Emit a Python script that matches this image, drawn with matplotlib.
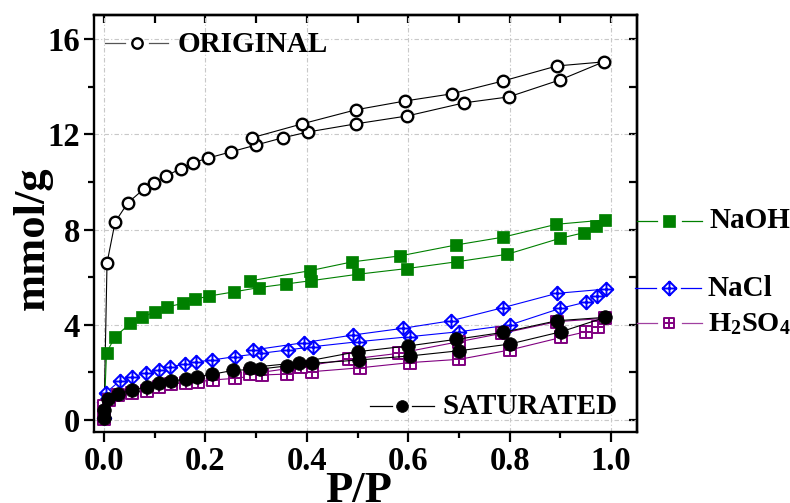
import matplotlib
matplotlib.use("Agg")
import matplotlib.pyplot as plt
from matplotlib.path import Path
from matplotlib.lines import Line2D
from matplotlib.ticker import MultipleLocator, NullFormatter, FixedLocator

plt.rcParams['font.family'] = ['Liberation Serif', 'DejaVu Serif']
plt.rcParams['font.weight'] = 'bold'
plt.rcParams['mathtext.fontset'] = 'custom'
plt.rcParams['mathtext.rm'] = 'Liberation Serif:bold'
plt.rcParams['mathtext.it'] = 'Liberation Serif:bold'
plt.rcParams['mathtext.bf'] = 'Liberation Serif:bold'
plt.rcParams['mathtext.default'] = 'rm'

# ---- isotherm data (adsorption branch, then desorption branch) ----
orig_ads_x = [0.0, 0.006, 0.022, 0.047, 0.079, 0.098, 0.122, 0.151, 0.175, 0.205,
              0.25, 0.30, 0.352, 0.403, 0.497, 0.598, 0.71, 0.798, 0.90, 0.985]
orig_ads_y = [0.1, 6.6, 8.32, 9.12, 9.71, 9.96, 10.25, 10.55, 10.80, 11.0,
              11.26, 11.55, 11.85, 12.1, 12.44, 12.77, 13.32, 13.57, 14.29, 15.04]
orig_des_x = [0.893, 0.787, 0.686, 0.594, 0.497, 0.391, 0.291]
orig_des_y = [14.87, 14.24, 13.7, 13.4, 13.03, 12.44, 11.85]

naoh_ads_x = [0.0, 0.005, 0.022, 0.052, 0.075, 0.10, 0.125, 0.156, 0.179, 0.208, 0.256,
              0.305, 0.358, 0.408, 0.50, 0.597, 0.697, 0.795, 0.899, 0.947, 0.971, 0.987]
naoh_ads_y = [0.1, 2.83, 3.5, 4.06, 4.31, 4.54, 4.75, 4.9, 5.07, 5.21, 5.38,
              5.56, 5.71, 5.85, 6.12, 6.36, 6.65, 6.96, 7.63, 7.87, 8.15, 8.40]
naoh_des_x = [0.892, 0.787, 0.694, 0.583, 0.489, 0.406, 0.287]
naoh_des_y = [8.22, 7.68, 7.35, 6.89, 6.64, 6.27, 5.84]

nacl_ads_x = [0.0, 0.001, 0.004, 0.031, 0.056, 0.083, 0.108, 0.131, 0.16, 0.182, 0.213, 0.258,
              0.309, 0.362, 0.412, 0.502, 0.603, 0.701, 0.80, 0.90, 0.95, 0.972, 0.99]
nacl_ads_y = [0.08, 0.77, 1.15, 1.64, 1.82, 1.96, 2.1, 2.24, 2.34, 2.44, 2.52, 2.66,
              2.8, 2.94, 3.08, 3.29, 3.5, 3.71, 3.99, 4.69, 4.95, 5.22, 5.5]
nacl_des_x = [0.893, 0.787, 0.685, 0.589, 0.491, 0.395, 0.294]
nacl_des_y = [5.32, 4.72, 4.17, 3.85, 3.57, 3.25, 2.94]

h2so4_ads_x = [0.0, 0.001, 0.01, 0.028, 0.056, 0.084, 0.109, 0.133, 0.161, 0.185, 0.214, 0.258,
               0.312, 0.36, 0.41, 0.504, 0.603, 0.701, 0.80, 0.902, 0.951, 0.975, 0.988]
h2so4_ads_y = [0.05, 0.6, 0.85, 1.05, 1.15, 1.23, 1.4, 1.51, 1.57, 1.61, 1.68, 1.75,
               1.89, 1.93, 2.03, 2.19, 2.41, 2.55, 2.94, 3.47, 3.71, 3.92, 4.27]
h2so4_des_x = [0.893, 0.785, 0.70, 0.581, 0.484, 0.389, 0.287]
h2so4_des_y = [4.13, 3.64, 3.29, 2.8, 2.55, 2.24, 1.93]

sat_ads_x = [0.0, 0.001, 0.008, 0.028, 0.056, 0.084, 0.109, 0.132, 0.161, 0.183, 0.213,
             0.254, 0.308, 0.36, 0.41, 0.503, 0.603, 0.701, 0.80, 0.902, 0.988]
sat_ads_y = [0.07, 0.42, 0.87, 1.09, 1.26, 1.4, 1.54, 1.64, 1.71, 1.82, 1.92,
             2.08, 2.14, 2.27, 2.38, 2.52, 2.69, 2.91, 3.19, 3.71, 4.31]
sat_des_x = [0.893, 0.787, 0.695, 0.60, 0.50, 0.385, 0.287]
sat_des_y = [4.17, 3.68, 3.39, 3.11, 2.87, 2.41, 2.2]

x_ticks = [0.0, 0.2, 0.4, 0.6, 0.8, 1.0]
x_tick_labels = ["0.0", "0.2", "0.4", "0.6", "0.8", "1.0"]
y_ticks = [0, 4, 8, 12, 16]
y_tick_labels = ["0", "4", "8", "12", "16"]

# ---- custom markers ----
diamond_cross = Path(
    [(0, 1), (1, 0), (0, -1), (-1, 0), (0, 1), (0, 1), (0, -1), (-1, 0), (1, 0)],
    [Path.MOVETO, Path.LINETO, Path.LINETO, Path.LINETO, Path.CLOSEPOLY,
     Path.MOVETO, Path.LINETO, Path.MOVETO, Path.LINETO])
square_grid = Path(
    [(-1, -1), (1, -1), (1, 1), (-1, 1), (-1, -1), (0, -1), (0, 1), (-1, 0), (1, 0)],
    [Path.MOVETO, Path.LINETO, Path.LINETO, Path.LINETO, Path.CLOSEPOLY,
     Path.MOVETO, Path.LINETO, Path.MOVETO, Path.LINETO])

styles = {
    'ORIGINAL': dict(color='black', marker='o', ms=8.3, mfc='white', mec='black', mew=1.7),
    'NaOH': dict(color='#008000', marker='s', ms=8.3, mfc='#008000', mec='#008000', mew=0.5),
    'NaCl': dict(color='#0000ff', marker=diamond_cross, ms=9.8, mfc='white', mec='#0000ff', mew=1.4),
    'H2SO4': dict(color='#800080', marker=square_grid, ms=8, mfc='white', mec='#800080', mew=1.4),
    'SATURATED': dict(color='black', marker='o', ms=9.8, mfc='black', mec='black', mew=0.5),
}

W, H = 790, 503
fig = plt.figure(figsize=(W / 100, H / 100), dpi=100)
ax = fig.add_axes([94 / W, 1 - 432 / H, (637 - 94) / W, (432 - 15) / H])
ax.set_xlim(-0.0197, 1.051)
ax.set_ylim(-0.504, 17.01)

series = [
    ('ORIGINAL', orig_ads_x, orig_ads_y, orig_des_x, orig_des_y),
    ('NaOH', naoh_ads_x, naoh_ads_y, naoh_des_x, naoh_des_y),
    ('NaCl', nacl_ads_x, nacl_ads_y, nacl_des_x, nacl_des_y),
    ('H2SO4', h2so4_ads_x, h2so4_ads_y, h2so4_des_x, h2so4_des_y),
    ('SATURATED', sat_ads_x, sat_ads_y, sat_des_x, sat_des_y),
]
for i, (name, ax_, ay_, dx_, dy_) in enumerate(series):
    st = styles[name]
    ax.plot(list(ax_) + list(dx_), list(ay_) + list(dy_), lw=0.8, zorder=3 + i,
            clip_on=False, **st)

# ---- axes styling ----
ax.set_xticks(x_ticks)
ax.set_xticklabels(x_tick_labels)
ax.set_yticks(y_ticks)
ax.set_yticklabels(y_tick_labels)
ax.xaxis.set_minor_locator(MultipleLocator(0.1))
ax.yaxis.set_minor_locator(MultipleLocator(2))
ax.tick_params(which='major', direction='out', length=7, width=1.6, labelsize=23.5, pad=3)
ax.tick_params(which='minor', direction='out', length=4, width=1.6)
for lab in ax.get_xticklabels() + ax.get_yticklabels():
    lab.set_fontweight('bold')
for sp in ax.spines.values():
    sp.set_linewidth(1.7)
ax.grid(True, which='major', color='#c8c8c8', linestyle=(0, (4, 2, 1, 2)), linewidth=0.8)
ax.set_axisbelow(True)

top = ax.secondary_xaxis('top')
top.xaxis.set_major_locator(FixedLocator(x_ticks))
top.xaxis.set_minor_locator(MultipleLocator(0.1))
top.xaxis.set_major_formatter(NullFormatter())
top.tick_params(which='both', direction='in', length=6, width=1.6)
top.spines['top'].set_linewidth(1.7)
right = ax.secondary_yaxis('right')
right.yaxis.set_major_locator(FixedLocator(y_ticks))
right.yaxis.set_minor_locator(MultipleLocator(2))
right.yaxis.set_major_formatter(NullFormatter())
right.tick_params(which='both', direction='in', length=6, width=1.6)
right.spines['right'].set_linewidth(1.7)

# ---- axis titles ----
fig.text(33 / W, 1 - 238 / H, 'mmol/g', rotation=90, fontsize=32,
         fontweight='bold', ha='center', va='center')
fig.text(358.5 / W, 1 - 502 / H, 'P/P', fontsize=32,
         fontweight='bold', ha='center', va='baseline')


# ---- series keys ----
def key(name, label, seg1, xm, seg2, yc, tx, base, ms=None, lc=None, fs=21):
    st = dict(styles[name])
    if ms is not None:
        st['ms'] = ms
    col = lc or st['color']
    for a, b in (seg1, seg2):
        fig.add_artist(Line2D([a / W, b / W], [1 - yc / H, 1 - yc / H],
                              transform=fig.transFigure, color=col, lw=0.9))
    mk = {k: v for k, v in st.items() if k != 'color'}
    fig.add_artist(Line2D([xm / W], [1 - yc / H], transform=fig.transFigure,
                          linestyle='none', **mk))
    fig.text(tx / W, 1 - base / H, label, fontsize=fs, fontweight='bold',
             ha='left', va='baseline')


key('ORIGINAL', 'ORIGINAL', (105, 125), 136.5, (149, 168), 42.5, 178, 51.5, ms=7.5, lc='#555555')
key('SATURATED', 'SATURATED', (370, 392), 402, (412, 434), 405.5, 442, 414.5, ms=8.5)
key('NaOH', 'NaOH', (637, 657), 669, (682, 702), 221, 710, 228)
key('NaCl', 'NaCl', (635, 656), 669, (681, 701), 287.5, 708, 296.5, ms=10)
key('H2SO4', 'H$_2$SO$_4$', (637, 657), 669, (682, 702), 323, 708, 331.5, ms=7, lc='#a040a0', fs=20.5)

fig.savefig('out.png', dpi=100)
